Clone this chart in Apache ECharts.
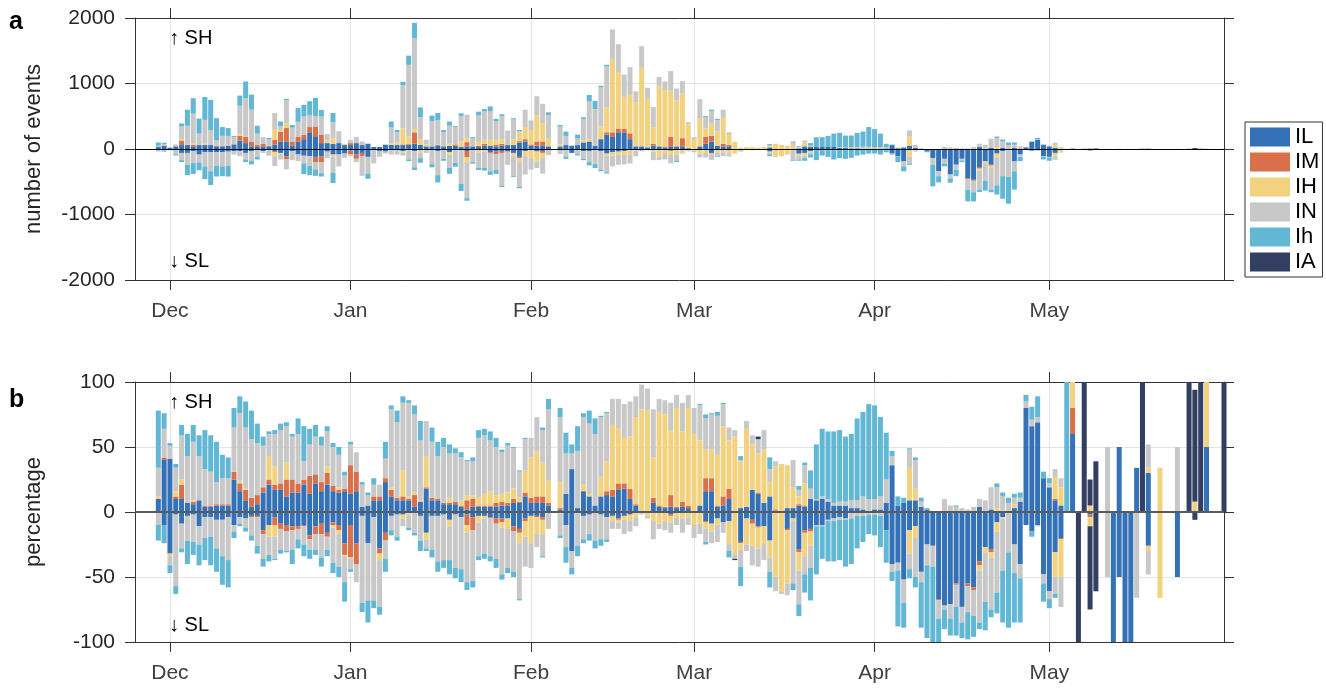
<!DOCTYPE html>
<html>
<head>
<meta charset="utf-8">
<script src="https://cdn.jsdelivr.net/npm/echarts@6/dist/echarts.min.js"></script>
<style>
html, body { margin: 0; padding: 0; background: #fff; }
#chart { width: 1326px; height: 691px; }
</style>
</head>
<body>
<div id="chart"></div>
<script>
// Days are counted from 1 December. The axis runs from 25 November (-6) to 31 May (181);
// the value arrays start on 29 November (-2).
const axisFirstDay = -6;
const axisLastDay = 181;
const firstDay = -2;
const monthTicks = [0, 31, 62, 90, 121, 151];
const monthLabels = ['Dec', 'Jan', 'Feb', 'Mar', 'Apr', 'May'];
const typeNames = ['IL', 'IM', 'IH', 'IN', 'Ih', 'IA'];

// ---- panel a: number of events per day (SH upward, SL downward as magnitudes) ----
const evUpIL = [30,50,20,40,60,60,40,60,60,60, 40,40,50,65,130,90,40,30,40,40, 65,115,115,50,110,150,245,195,90,90, 80,90,60,60,90,60,80,30,30,65, 65,60,60,65,80,65,40,40,55,40, 50,50,30,40,40,30,50,50,40,50, 60,60,100,115,50,50,55,40,0,40, 60,50,60,100,115,50,150,220,185,255, 255,150,40,40,25,50,40,20,40,40, 40,10,0,40,80,115,50,40,40,0, 0,0,0,0,0,25,0,0,0,0, 10,40,30,30,30,40,40,20,20,10, 10,5,5,5,5,10,60,10,20,50, 15,5,0,0,0,0,0,0,0,0, 0,30,0,15,0,15,0,15,0,25, 110,140,60,40,20,5,0,6,0,0, 0,0,0,0,0,2,0,0,1,0, 6,0,0,0,0,0,0,0,0,0, 2,0,0,0];
const evUpIM = [0,5,0,0,70,0,25,0,0,0, 10,10,0,10,70,100,75,30,40,10, 75,150,205,65,80,65,90,150,125,0, 0,0,0,30,0,0,0,0,0,0, 0,0,10,10,175,0,0,0,10,0, 0,20,0,65,0,20,30,0,25,30, 0,0,20,35,20,65,60,0,0,0, 0,0,0,0,0,0,0,35,70,50, 50,90,0,0,0,30,0,20,150,0, 125,10,0,0,110,85,0,40,25,0, 0,0,0,0,0,0,0,0,0,0, 0,0,0,0,0,0,0,0,0,0, 0,0,0,0,0,0,0,0,0,0, 0,0,0,0,0,0,0,0,0,0, 0,0,0,0,0,0,0,0,0,0, 0,0,0,0,0,0,0,2,0,0, 0,0,0,0,0,0,0,0,0,0, 0,0,0,0,0,0,0,0,0,0, 0,0,0,0];
const evUpIH = [0,0,0,0,20,0,25,0,20,0, 0,0,0,0,30,10,0,0,0,0, 165,25,75,0,0,0,0,0,0,40, 85,0,20,0,0,0,0,0,0,0, 20,40,245,120,50,80,30,0,0,0, 30,0,85,60,0,60,60,90,75,70, 0,90,130,185,220,395,280,110,0,30, 0,0,0,30,35,0,195,385,1120,860, 490,600,670,1200,740,255,920,860,700,705, 680,355,140,420,125,185,220,395,150,110, 20,30,30,20,30,20,80,65,50,50, 10,60,0,0,0,0,0,0,0,0, 0,0,0,0,0,0,0,0,0,140, 0,0,0,0,0,0,0,0,0,0, 0,0,0,0,30,0,0,0,0,0, 0,0,0,0,40,20,0,2,0,0, 1,0,0,0,0,0,0,0,0,0, 1,0,1,0,0,0,0,0,1,0, 2,0,0,0];
const evUpIN = [20,20,0,30,200,295,450,175,365,230, 80,150,150,110,430,575,485,175,100,95, 245,60,350,210,225,280,180,155,280,100, 240,180,0,50,95,55,0,0,0,0, 245,160,660,1090,1390,340,70,385,375,220, 275,265,390,360,120,400,435,440,280,350, 220,300,20,265,145,295,295,370,0,270, 140,0,100,330,575,560,600,620,435,435, 340,410,170,330,170,305,140,130,300,180, 190,35,40,285,175,195,170,125,40,0, 0,0,0,0,0,15,0,0,0,70, 10,30,20,0,0,0,0,10,10,20, 20,30,30,25,25,20,5,0,0,85, 50,0,0,0,0,30,25,20,10,10, 30,50,65,140,140,100,60,50,40,3, 10,5,0,5,35,5,0,0,0,0, 0,0,0,2,0,0,0,0,0,0, 4,0,0,0,0,2,0,0,0,0, 0,0,0,0];
const evUpIh = [50,20,0,0,40,245,235,230,350,460, 340,135,120,15,155,255,230,120,0,25, 0,70,20,40,210,180,215,280,100,0, 145,0,0,0,0,0,0,0,0,0, 90,30,50,140,230,150,0,85,110,30, 65,15,40,0,20,60,35,70,40,30, 0,20,20,0,0,0,0,40,0,25, 65,0,60,25,100,125,20,25,10,0, 0,0,0,0,0,0,0,0,0,0, 0,0,0,10,15,20,20,0,0,0, 0,0,0,0,0,15,0,0,0,0, 10,0,40,150,150,160,195,215,175,175, 215,230,300,275,205,50,5,10,10,5, 0,0,0,0,0,0,0,0,0,0, 0,0,0,0,20,30,40,35,0,3, 5,25,10,5,0,0,3,0,0,0, 0,0,0,0,0,0,0,0,0,0, 0,0,0,0,0,0,0,0,0,0, 0,0,0,0];
const evUpIA = [0,0,0,0,0,0,0,0,0,0, 0,0,0,0,0,0,0,0,0,0, 0,0,0,0,0,0,0,0,0,0, 0,0,0,0,0,0,0,0,0,0, 0,0,0,0,0,0,0,0,0,0, 0,0,0,0,0,0,0,0,0,0, 0,0,0,0,0,0,0,0,0,0, 0,0,0,0,0,0,0,0,0,0, 0,0,0,0,0,0,0,0,0,0, 0,0,0,0,0,0,0,0,0,0, 0,0,0,0,0,0,0,0,0,0, 0,0,0,0,0,0,0,0,0,0, 0,0,0,0,0,0,0,0,0,0, 0,0,0,0,0,0,0,0,0,0, 0,0,0,0,0,0,0,0,0,0, 0,0,0,0,0,0,0,0,0,3, 5,8,0,0,0,0,0,0,0,4, 0,0,0,0,0,0,0,3,14,4, 0,0,0,2];

const evDnIL = [10,10,15,20,60,60,35,85,50,50, 50,50,40,35,35,60,35,0,30,20, 30,60,110,30,85,100,110,120,110,40, 85,85,70,20,85,60,120,20,30,40, 0,20,30,10,30,20,20,10,30,0, 50,20,10,30,20,20,20,50,40,30, 40,60,120,30,20,30,30,10,0,0, 20,60,20,30,30,20,30,70,50,40, 30,20,0,0,0,10,10,0,20,20, 10,0,0,10,20,60,20,10,20,0, 10,0,5,5,5,40,0,0,10,15, 70,60,30,20,20,20,20,10,10,0, 0,0,0,0,0,20,70,110,190,20, 10,10,30,140,340,150,390,240,150,445, 470,275,190,240,70,35,10,190,85,3, 25,20,110,120,60,10,0,0,0,0, 1,0,0,0,3,2,3,3,0,0, 5,0,0,0,0,2,0,0,0,0, 0,0,0,0];
const evDnIM = [0,0,0,0,0,0,0,0,0,0, 0,0,0,0,0,0,0,0,0,0, 20,0,50,0,0,10,0,80,90,0, 0,0,0,60,65,50,0,0,0,0, 0,0,0,0,0,0,0,0,0,0, 0,0,0,100,0,0,0,20,40,30, 0,0,20,0,0,10,30,0,0,0, 0,0,0,0,0,0,0,0,0,0, 0,0,0,0,0,0,0,0,10,0, 0,0,0,0,0,10,0,0,0,0, 0,0,0,0,0,0,0,0,0,0, 5,0,0,0,0,0,0,0,0,0, 0,0,0,0,0,0,0,0,0,0, 0,0,0,0,0,0,0,0,0,15, 15,25,0,15,0,0,0,0,0,0, 0,0,0,0,0,0,0,0,0,0, 1,0,0,0,0,0,0,0,0,0, 0,0,0,0,0,0,0,0,0,0, 0,0,0,0];
const evDnIH = [0,0,0,0,0,0,0,0,0,0, 0,0,0,0,0,0,0,0,0,0, 50,20,0,0,0,0,0,0,0,0, 30,0,0,0,0,0,0,0,0,0, 0,0,20,0,0,30,0,0,0,0, 40,0,0,70,0,30,20,0,0,0, 0,40,60,80,120,150,70,0,0,0, 0,0,0,0,0,0,0,30,50,50, 60,60,20,15,10,30,110,60,60,60, 40,20,25,60,40,20,30,40,60,70, 5,15,10,5,5,20,100,110,75,0, 30,40,20,0,0,0,0,0,0,0, 0,0,0,0,0,0,0,0,0,100, 10,0,0,0,0,0,0,0,0,0, 0,30,25,35,65,0,0,0,0,0, 0,0,0,0,60,30,0,0,0,0, 2,0,0,0,0,0,0,0,0,0, 1,0,2,0,0,0,0,0,0,0, 0,0,0,0];
const evDnIN = [20,20,5,60,110,180,180,120,215,290, 205,215,220,50,75,100,150,120,30,80, 160,80,150,140,100,110,150,110,170,100, 245,180,65,30,50,300,255,200,90,30, 85,65,50,150,250,90,40,220,370,150, 200,190,520,550,180,240,250,270,240,500, 200,310,380,280,175,100,240,80,0,60, 100,0,60,120,170,210,290,255,165,150, 145,140,90,20,10,130,50,100,130,100, 20,15,25,60,70,60,60,60,20,0, 10,0,5,5,5,20,20,0,0,150, 55,40,30,0,0,0,0,0,0,10, 10,10,5,5,5,0,5,0,75,100, 20,0,0,100,75,75,60,75,25,160, 175,290,270,330,420,380,415,150,35,0, 0,0,10,10,30,15,0,0,0,0, 0,0,0,2,0,0,0,0,2,0, 4,0,0,0,0,0,0,0,0,0, 0,0,0,0];
const evDnIh = [5,10,0,20,30,160,165,120,195,210, 165,150,160,0,0,40,50,40,0,0, 0,0,0,0,0,165,140,100,50,0, 160,0,0,0,0,0,80,0,0,0, 0,0,0,25,40,70,0,50,110,30, 90,60,110,40,25,30,40,55,60,20, 0,15,20,0,0,0,5,0,0,10, 30,0,20,20,50,60,20,20,0,0, 0,0,0,0,0,0,0,0,0,20, 0,0,0,0,0,10,10,0,10,0, 10,0,0,0,0,30,0,0,0,15, 20,40,50,150,80,100,140,130,140,125, 90,75,65,65,80,30,10,90,75,20, 0,5,20,330,95,40,65,100,25,180, 140,35,150,40,140,345,410,280,65,0, 5,0,40,50,10,0,0,0,0,0, 0,0,0,0,0,0,0,0,0,0, 0,0,0,0,0,0,0,0,0,0, 0,0,0,0];
const evDnIA = [0,0,0,0,0,0,0,0,0,0, 0,0,0,0,0,0,0,0,0,0, 0,0,0,0,0,0,0,0,0,0, 0,0,0,0,0,0,0,0,0,0, 0,0,0,0,0,0,0,0,0,0, 0,0,0,0,0,0,0,0,0,0, 0,0,0,0,0,0,0,0,0,0, 0,0,0,0,0,0,0,0,0,0, 0,0,0,0,0,0,0,0,0,0, 0,0,0,0,0,0,0,0,0,0, 0,0,0,0,0,0,0,0,0,0, 0,0,0,0,0,0,0,0,0,0, 0,0,0,0,0,0,0,0,0,0, 0,0,0,0,0,0,0,0,0,0, 0,0,0,0,0,0,0,0,0,0, 0,0,0,0,0,0,0,0,4,0, 17,12,0,0,0,0,0,0,0,0, 0,0,0,0,0,0,0,0,1,0, 0,0,0,0];

// ---- panel b: share of the day's events in percent (SH upward, SL downward as magnitudes) ----
const pcUpIL = [10,40,41,10,10,7,6,9,4,4, 5,5,5,25,16,9,4,6,15,21, 17,17,12,15,15,21,14,22,16,21, 16,15,16,14,16,4,5,9,9,23, 12,9,9,9,4,8,18,9,9,6, 6,6,4,2,4,4,4,4,4,5, 5,7,7,12,7,7,7,5,0,2, 14,33,3,16,12,5,12,13,12,17, 18,10,5,1,0,7,4,3,4,3, 4,3,0,5,16,16,4,5,10,0, 3,4,17,14,7,12,1,0,3,3, 5,4,10,9,10,8,5,5,5,3, 3,2,1,2,2,7,36,5,7,9, 9,4,2,0,0,0,0,0,0,0, 0,4,0,2,0,0,0,3,8,80, 66,69,26,19,9,5,0,60,0,0, 0,0,0,0,0,50,0,0,34,0, 30,0,0,0,0,0,0,0,0,0, 50,0,0,0];
const pcUpIM = [0,2,0,2,11,0,2,0,1,1, 1,1,1,6,6,8,7,7,4,4, 4,5,13,10,7,4,14,7,7,9, 4,2,2,22,15,0,0,3,3,3, 5,2,3,1,9,0,1,2,1,1, 1,2,1,7,6,1,1,1,3,3, 2,3,1,3,4,5,5,2,0,1, 0,0,0,0,0,0,0,3,5,5, 4,8,1,0,0,4,1,1,9,1, 4,2,0,0,10,10,1,7,8,0, 0,0,0,1,0,0,1,0,0,0, 1,1,0,0,0,0,0,0,0,0, 0,0,0,0,0,0,0,0,0,0, 0,0,0,0,0,0,0,0,0,0, 0,0,0,0,0,0,0,0,0,0, 0,0,0,0,1,0,0,20,0,0, 0,0,0,0,0,0,0,0,0,0, 0,0,0,0,0,0,0,0,0,0, 0,0,0,0];
const pcUpIH = [2,0,0,4,4,0,1,0,0,0, 0,0,0,0,2,1,0,0,0,18, 14,0,13,0,0,0,0,0,0,5, 0,2,0,0,0,0,0,0,0,0, 2,0,20,2,2,1,24,0,0,0, 4,0,4,4,3,6,9,11,6,6, 8,8,3,17,31,35,26,17,0,20, 0,0,0,5,2,0,15,23,50,42, 35,40,67,78,78,31,72,71,50,76, 54,75,60,50,22,22,39,54,37,58, 36,60,35,30,41,11,33,37,33,16, 6,17,0,0,0,0,0,0,0,0, 0,0,0,0,0,0,0,0,0,25, 9,0,0,0,0,0,0,0,0,0, 0,0,0,0,3,1,0,3,0,0, 0,0,0,0,17,14,0,20,0,0, 5,0,0,0,0,0,0,0,0,0, 4,0,34,0,0,0,0,0,8,0, 50,0,0,0];
const pcUpIN = [22,22,10,18,34,36,45,34,28,26, 17,20,20,34,52,47,45,40,32,17, 25,41,28,33,38,14,24,29,28,27, 30,25,10,16,15,17,8,9,9,15, 60,58,52,72,60,46,27,43,33,43, 34,37,33,26,26,46,45,39,37,32, 36,31,20,24,15,26,25,55,0,50, 31,12,44,52,54,55,46,37,20,23, 26,27,16,19,17,37,10,11,21,10, 22,10,20,27,24,27,30,17,10,5, 1,6,7,11,15,10,4,0,0,21, 5,14,8,1,2,2,2,3,3,6, 6,10,9,8,10,18,7,0,0,14, 22,4,0,0,0,10,5,4,3,2, 4,6,9,17,16,11,7,5,3,5, 5,4,0,3,6,7,0,0,0,0, 0,0,0,50,0,0,0,0,0,0, 18,0,0,0,0,50,0,0,0,0, 0,0,0,0];
const pcUpIh = [44,12,2,3,8,17,13,16,30,28, 31,18,16,15,13,20,22,15,7,2, 3,5,3,2,12,27,12,9,7,4, 3,6,3,2,0,2,2,5,0,13, 3,9,5,2,7,15,0,11,11,7, 7,4,4,1,3,6,5,7,7,2, 2,1,1,1,0,0,2,8,0,7, 16,7,19,3,10,12,1,1,0,0, 0,0,0,0,0,0,0,0,0,0, 0,0,0,1,3,1,3,1,0,0, 3,0,0,0,0,9,0,0,0,0, 3,2,14,42,52,52,55,55,50,51, 63,65,73,72,61,36,4,7,4,1, 2,3,1,0,0,0,0,1,0,0, 0,0,0,0,3,3,4,3,4,5, 10,16,5,4,0,0,100,0,0,0, 0,0,0,0,0,0,0,0,0,0, 0,0,0,0,0,0,0,0,0,0, 0,0,0,0];
const pcUpIA = [0,0,0,0,0,0,0,0,0,0, 0,0,0,0,0,0,0,0,0,0, 0,0,0,0,0,0,0,0,0,0, 0,0,0,0,0,0,0,0,0,0, 0,0,0,0,0,0,0,0,0,0, 0,0,0,0,0,0,0,0,0,0, 0,0,0,0,0,0,0,0,0,0, 0,0,0,0,0,0,0,0,0,0, 0,0,0,0,0,0,0,0,0,0, 0,0,0,0,0,0,0,0,0,0, 0,0,0,2,0,0,0,0,0,0, 0,0,0,0,0,0,0,0,0,0, 0,0,0,0,0,0,0,0,0,0, 0,0,0,0,0,0,0,0,0,0, 0,0,0,0,0,0,0,0,0,0, 0,0,0,0,0,0,0,0,0,100, 20,39,0,0,0,0,0,0,0,100, 0,0,0,0,0,0,0,100,86,100, 0,0,0,100];

const pcDnIL = [0,10,32,2,9,3,2,11,4,4, 6,6,4,10,4,5,3,3,14,10, 4,9,10,11,11,10,18,11,9,16, 8,10,24,10,24,3,24,4,28,16, 3,2,2,1,1,3,16,3,3,2, 6,2,4,2,4,3,3,4,5,5, 5,11,13,5,3,3,4,1,0,0, 10,30,1,3,2,1,2,4,3,5, 3,2,1,0,0,1,0,1,2,1, 1,0,0,1,7,9,5,8,7,0, 23,5,6,11,11,22,0,0,13,5, 29,14,13,10,10,6,5,4,5,1, 0,0,0,0,0,14,40,39,52,14, 11,46,25,26,67,72,71,55,73,55, 58,38,27,29,8,4,0,25,40,10, 15,10,48,61,31,20,0,0,0,0, 2,0,0,0,100,50,100,100,0,0, 26,0,0,0,0,50,0,0,0,0, 0,0,0,0];
const pcDnIM = [0,0,0,0,0,0,0,0,0,0, 0,0,0,0,0,0,1,1,3,0, 6,4,5,3,2,1,3,6,8,3, 2,4,9,25,16,0,0,0,4,6, 0,0,0,0,0,0,0,0,0,0, 0,0,0,8,10,0,0,1,4,3, 0,4,3,2,0,1,2,0,0,0, 0,0,0,0,0,0,0,0,0,1, 0,0,0,0,0,0,0,0,1,0, 0,0,0,0,1,0,0,0,0,0, 1,0,3,1,0,0,0,0,1,0, 2,2,2,0,0,0,0,0,0,0, 0,0,0,0,0,0,0,0,0,0, 0,0,0,0,1,0,0,1,0,2, 2,3,0,2,0,0,0,0,0,0, 0,0,0,0,0,1,0,0,0,0, 2,0,0,0,0,0,0,0,0,0, 0,0,0,0,0,0,0,0,0,0, 0,0,0,0];
const pcDnIH = [0,0,2,0,0,0,0,0,0,0, 0,0,0,0,0,0,0,0,0,9, 9,0,0,0,0,0,0,0,0,0, 2,3,1,1,0,0,0,0,5,0, 0,0,3,1,0,0,5,0,0,0, 5,0,0,6,0,5,2,0,0,4, 8,0,8,12,21,13,11,0,0,1, 0,0,0,0,0,0,0,0,4,2, 3,5,3,1,3,6,9,6,5,3, 4,4,10,8,5,6,5,0,17,33, 5,20,17,16,13,13,50,61,41,2, 14,18,11,0,0,0,0,0,0,0, 0,0,0,0,0,0,0,0,0,18, 9,0,0,0,0,0,0,0,0,0, 0,4,4,4,7,1,0,0,0,0, 0,0,0,0,19,29,0,0,0,0, 7,0,0,0,0,0,0,0,0,0, 4,0,66,0,0,0,0,0,0,0, 0,0,0,0];
const pcDnIN = [10,0,7,55,19,19,21,14,16,15, 22,28,33,5,5,7,14,22,19,14, 17,16,15,15,8,14,8,12,18,10, 27,25,20,8,14,67,44,64,36,14, 11,17,6,10,15,19,7,26,35,35, 26,41,40,38,39,26,27,29,27,36, 30,31,43,23,19,10,17,12,0,17, 17,13,25,18,15,21,19,17,6,5, 11,8,7,1,2,14,4,7,8,6, 11,6,10,8,10,9,13,8,6,3, 13,5,15,14,13,11,11,2,9,48, 26,14,17,1,1,1,2,2,1,4, 3,3,2,2,3,0,6,6,18,12, 30,8,16,16,14,3,11,17,12,20, 20,40,38,40,47,40,31,22,11,0, 0,1,7,6,13,23,0,0,0,0, 0,0,0,50,0,0,0,0,66,0, 18,0,0,0,0,0,0,0,0,0, 0,0,0,0];
const pcDnIh = [12,14,6,6,3,18,10,16,17,22, 18,22,21,5,2,3,4,6,6,5, 1,3,1,11,7,9,7,4,7,5, 8,8,15,2,0,7,17,6,6,10, 4,3,0,2,2,8,2,6,8,6, 11,8,10,6,5,3,4,4,7,4, 4,4,1,0,0,0,1,0,0,2, 12,5,8,3,5,6,5,2,0,0, 0,0,0,0,0,0,0,0,0,0, 0,0,0,0,2,0,0,0,5,0, 15,0,0,0,0,12,0,0,0,5, 9,14,25,37,25,31,31,31,36,35, 25,20,15,16,24,25,7,43,19,7, 8,35,56,58,18,15,13,22,12,21, 16,5,22,6,16,40,58,38,34,0, 4,0,14,7,3,0,0,0,0,0, 0,0,0,0,0,0,0,0,0,0, 0,0,0,0,0,0,0,0,0,0, 0,0,0,0];
const pcDnIA = [0,0,0,0,0,0,0,0,0,0, 0,0,0,0,0,0,0,0,0,0, 0,0,0,0,0,0,0,0,0,0, 0,0,0,0,0,0,0,0,0,0, 0,0,0,0,0,0,0,0,0,0, 0,0,0,0,0,0,0,0,0,0, 0,0,0,0,0,0,0,0,0,0, 0,0,0,0,0,0,0,0,0,0, 0,0,0,0,0,0,0,0,0,0, 0,0,0,0,0,0,0,0,0,1, 0,0,0,0,0,0,0,0,0,0, 0,0,0,0,0,0,0,0,0,0, 0,0,0,0,0,0,0,0,0,0, 0,0,0,0,0,0,0,0,0,0, 0,0,0,0,0,0,0,0,0,0, 0,0,0,0,0,0,0,0,100,0, 64,61,0,0,0,0,0,0,0,0, 0,0,0,0,0,0,0,0,6,0, 0,0,0,0];

const typeColors = { IL: '#3471b7', IM: '#d9704a', IH: '#f3d27f', IN: '#c8c8c8', Ih: '#62b7d5', IA: '#323f62' };
const FONT = "'Liberation Sans', Arial, 'DejaVu Sans', sans-serif";
const AXIS_COLOR = '#333333';
const LABEL_COLOR = '#262626';
const GRID_COLOR = '#e4e4e4';

// one category per day along the axis
const dayAxis = [];
for (let d = axisFirstDay; d <= axisLastDay; d++) dayAxis.push(d);
const lead = firstDay - axisFirstDay;
const isMonthStart = (index) => monthTicks.indexOf(dayAxis[index]) >= 0;

// signed values on the day axis; empty days stay out of the stack
function toValues(arr, sign) {
  const out = new Array(dayAxis.length).fill(null);
  arr.forEach((v, i) => { if (v) out[lead + i] = sign * v; });
  return out;
}

function panelSeries(up, dn, axisIndex, stackKey, zeroColor, zeroWidth) {
  const list = [];
  typeNames.forEach((name, k) => {
    [[up[k], 1], [dn[k], -1]].forEach(([arr, sign]) => {
      list.push({
        type: 'bar',
        name: name,
        stack: stackKey,
        xAxisIndex: axisIndex,
        yAxisIndex: axisIndex,
        barWidth: 5,
        data: toValues(arr, sign),
        itemStyle: { color: typeColors[name] },
        emphasis: { disabled: true },
        animation: false
      });
    });
  });
  list[list.length - 1].markLine = {
    silent: true,
    symbol: 'none',
    label: { show: false },
    animation: false,
    lineStyle: { color: zeroColor, width: zeroWidth, type: 'solid' },
    data: [{ yAxis: 0 }]
  };
  return list;
}

function xAxisDef(gridIndex, position, showLabels) {
  return {
    type: 'category',
    gridIndex: gridIndex,
    position: position,
    data: dayAxis,
    boundaryGap: false,
    axisLine: { show: true, onZero: false, lineStyle: { color: AXIS_COLOR, width: 1 } },
    axisTick: { show: true, interval: isMonthStart, length: 10, lineStyle: { color: AXIS_COLOR } },
    axisLabel: {
      show: showLabels,
      interval: isMonthStart,
      formatter: v => monthLabels[monthTicks.indexOf(Number(v))] || '',
      fontSize: 21,
      fontFamily: FONT,
      color: '#404040',
      margin: 21
    },
    splitLine: { show: showLabels, interval: isMonthStart, lineStyle: { color: GRID_COLOR, width: 1 } }
  };
}

function yAxisDef(gridIndex, position, lim, step, showLabels, name) {
  return {
    type: 'value',
    gridIndex: gridIndex,
    position: position,
    min: -lim,
    max: lim,
    interval: step,
    name: showLabels ? name : '',
    nameLocation: 'middle',
    nameGap: 90,
    nameTextStyle: { fontSize: 22, fontFamily: FONT, color: LABEL_COLOR },
    axisLine: { show: true, onZero: false, lineStyle: { color: AXIS_COLOR, width: 1 } },
    axisTick: { show: true, length: 10, lineStyle: { color: AXIS_COLOR } },
    axisLabel: {
      show: showLabels,
      formatter: v => String(v),
      fontSize: 21,
      fontFamily: FONT,
      color: LABEL_COLOR,
      margin: 20
    },
    splitLine: { show: showLabels, lineStyle: { color: GRID_COLOR, width: 1 } }
  };
}

function note(text, x, y) {
  return { type: 'text', left: x, top: y, style: { text: text, font: '20px ' + FONT, fill: '#000' } };
}

const seriesA = panelSeries(
  [evUpIL, evUpIM, evUpIH, evUpIN, evUpIh, evUpIA],
  [evDnIL, evDnIM, evDnIH, evDnIN, evDnIh, evDnIA],
  0, 'events', '#000000', 1.2);
const seriesB = panelSeries(
  [pcUpIL, pcUpIM, pcUpIH, pcUpIN, pcUpIh, pcUpIA],
  [pcDnIL, pcDnIM, pcDnIH, pcDnIN, pcDnIh, pcDnIA],
  2, 'share', '#5a5a5a', 2);

const chart = echarts.init(document.getElementById('chart'));
chart.setOption({
  animation: false,
  backgroundColor: '#ffffff',
  textStyle: { fontFamily: FONT },
  grid: [
    { left: 135, right: 102, top: 18, height: 262 },
    { left: 135, right: 102, top: 382, height: 260 }
  ],
  xAxis: [
    xAxisDef(0, 'bottom', true),
    xAxisDef(0, 'top', false),
    xAxisDef(1, 'bottom', true),
    xAxisDef(1, 'top', false)
  ],
  yAxis: [
    yAxisDef(0, 'left', 2000, 1000, true, 'number of events'),
    yAxisDef(0, 'right', 2000, 1000, false, ''),
    yAxisDef(1, 'left', 100, 50, true, 'percentage'),
    yAxisDef(1, 'right', 100, 50, false, '')
  ],
  legend: {
    data: typeNames,
    orient: 'vertical',
    left: 1245,
    top: 122,
    icon: 'rect',
    itemWidth: 40,
    itemHeight: 19,
    itemGap: 3,
    padding: [4, 3, 4, 5],
    borderColor: AXIS_COLOR,
    borderWidth: 1,
    selectedMode: false,
    textStyle: { fontSize: 22, fontFamily: FONT, color: '#000' }
  },
  graphic: [
    { type: 'text', left: 9, top: 10, style: { text: 'a', font: 'bold 25px ' + FONT, fill: '#000' } },
    { type: 'text', left: 9, top: 388, style: { text: 'b', font: 'bold 25px ' + FONT, fill: '#000' } },
    note('\u2191 SH', 169, 28),
    note('\u2193 SL', 169, 251),
    note('\u2191 SH', 169, 392),
    note('\u2193 SL', 169, 615)
  ],
  series: seriesA.concat(seriesB)
});
</script>
</body>
</html>
